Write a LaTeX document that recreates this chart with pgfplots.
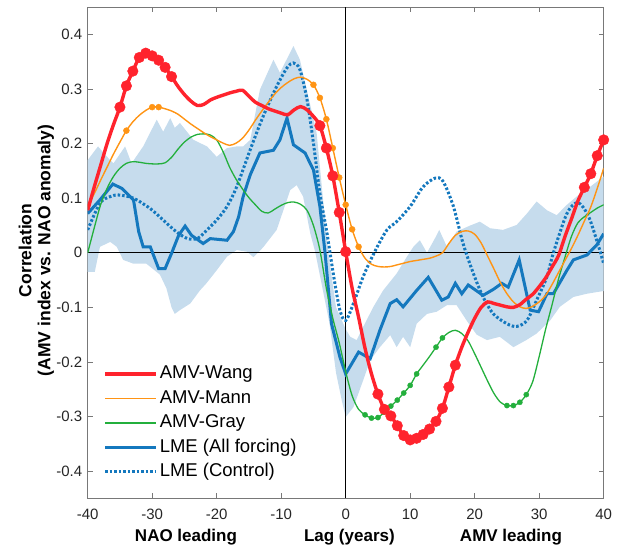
\documentclass[border=0pt]{standalone}
\usepackage{fontspec}
\setmainfont{Liberation Sans}
\usepackage{pgfplots}
\pgfplotsset{compat=1.18}
\usepgfplotslibrary{fillbetween}
\definecolor{cred}{RGB}{255,35,45}
\definecolor{corange}{RGB}{255,148,20}
\definecolor{cgreen}{RGB}{35,175,60}
\definecolor{cblue}{RGB}{20,120,190}
\definecolor{cband}{RGB}{198,220,237}
\definecolor{cframe}{RGB}{120,120,120}
\definecolor{ctext}{RGB}{38,38,38}
\begin{document}
\begin{tikzpicture}
\begin{axis}[
  scale only axis, width=516pt, height=491pt,
  xmin=-40, xmax=40, ymin=-0.45, ymax=0.45,
  xtick={-40,-30,-20,-10,0,10,20,30,40},
  ytick={-0.4,-0.3,-0.2,-0.1,0,0.1,0.2,0.3,0.4},
  /pgf/number format/assume math mode=true,
  yticklabel style={/pgf/number format/fixed, /pgf/number format/precision=1, xshift=-2pt},
  xticklabel style={anchor=base, yshift=-21pt},
  ticklabel style={font=\fontsize{15}{18}\selectfont, text=ctext},
  tick align=inside, major tick length=5pt,
  tick style={cframe, line width=0.7pt},
  axis line style={cframe, line width=0.8pt},
  ylabel={Correlation\\(AMV index vs. NAO anomaly)},
  ylabel style={align=center, font=\bfseries\fontsize{17.5}{19}\selectfont, at={(axis description cs:-0.0995,0.505)}, anchor=center},
  legend style={draw=none, fill=none, at={(axis cs:-37.6,-0.2025)}, anchor=north west,
    font=\fontsize{18.5}{22}\selectfont, inner sep=0pt, row sep=3.5pt,
    nodes={inner sep=2pt, text height=13.5pt, text depth=3.5pt}},
  legend cell align=left,
  legend image code/.code={\draw[#1] (0pt,0pt) -- (51pt,0pt);},
]
% band
\addplot[name path=up, draw=none, forget plot] coordinates {
(-40,0.170) (-38.4,0.195) (-37,0.176) (-36,0.164) (-34.2,0.195) (-33.2,0.164) (-31.4,0.195) (-29.3,0.244) (-28.3,0.222) (-27.2,0.247) (-26.5,0.229) (-25.7,0.238) (-23.6,0.207) (-21.5,0.195) (-20,0.176) (-18.4,0.192) (-16.9,0.195) (-15.9,0.195) (-14.8,0.207) (-13.3,0.299) (-11.2,0.354) (-10.2,0.330) (-8.1,0.379) (-7.1,0.354) (-5.8,0.287) (-4.5,0.219) (-3.2,0.06) (-2.7,0) (-1.5,-0.10) (0,-0.14) (0.7,-0.154) (1.7,-0.16) (2.7,-0.136) (4.3,-0.099) (5.8,-0.069) (7.9,-0.038) (9.5,-0.007) (10.5,0.011) (11.5,0.023) (12.6,0) (14,0.030) (14.5,0.042) (15.7,0.011) (17.2,0.039) (19.3,0.05) (20.8,0.057) (22.4,0.045) (24.4,0.042) (26.5,0.051) (28.1,0.072) (29.6,0.094) (31.2,0.078) (32.7,0.069) (34.3,0.088) (35.8,0.103) (37.9,0.121) (40,0.14)};
\addplot[name path=lo, draw=none, forget plot] coordinates {
(-40,-0.035) (-38.9,-0.035) (-38.1,0.011) (-36.5,0.020) (-35.5,0.011) (-34.5,-0.013) (-32.9,-0.020) (-30.9,-0.020) (-28.8,-0.040) (-27.8,-0.065) (-27,-0.100) (-26.5,-0.112) (-25.7,-0.105) (-24.1,-0.093) (-22.6,-0.069) (-21.6,-0.056) (-20,-0.032) (-18.4,-0.007) (-16.9,0.005) (-15.3,0.002) (-14.3,-0.008) (-12.8,0.010) (-10.7,0.042) (-8.6,0.115) (-7.6,0.124) (-6.6,0.103) (-5.5,0.036) (-4.7,0) (-2.5,-0.13) (-1.5,-0.22) (-0.6,-0.271) (0,-0.301) (1.2,-0.283) (2.7,-0.234) (3.8,-0.197) (5.3,-0.173) (6.9,-0.151) (7.9,-0.173) (8.9,-0.154) (10,-0.173) (11,-0.130) (12.6,-0.112) (14.1,-0.108) (15.7,-0.096) (17.2,-0.096) (18.8,-0.125) (20.3,-0.15) (21.9,-0.160) (23.9,-0.154) (26,-0.173) (28,-0.160) (29.6,-0.148) (31.7,-0.124) (33.2,-0.099) (35.3,-0.081) (37.4,-0.075) (40,-0.070)};
\addplot[cband, forget plot] fill between[of=up and lo];
% zero lines
\addplot[black, line width=1pt, forget plot] coordinates {(-40,0) (40,0)};
\addplot[black, line width=1pt, forget plot] coordinates {(0,-0.45) (0,0.45)};
% legend images
\addlegendimage{color=cred, line width=3.4pt}
\addlegendentry{AMV-Wang}
\addlegendimage{color=corange, line width=1.6pt}
\addlegendentry{AMV-Mann}
\addlegendimage{color=cgreen, line width=1.6pt}
\addlegendentry{AMV-Gray}
\addlegendimage{color=cblue, line width=3pt}
\addlegendentry{LME (All forcing)}
\addlegendimage{color=cblue, line width=3pt, dash pattern=on 2.5pt off 2pt}
\addlegendentry{LME (Control)}
% LME control
\addplot[cblue, line width=3pt, dash pattern=on 2.5pt off 2pt, smooth, forget plot] coordinates {
(-40,0.042) (-38.1,0.091) (-36.5,0.103) (-35.2,0.106) (-32.9,0.100) (-30.3,0.081) (-28.3,0.060) (-26.2,0.038) (-24.5,0.026) (-23,0.026) (-22,0.036) (-20,0.060) (-18.4,0.085) (-16.9,0.121) (-14.8,0.189) (-12.8,0.25) (-10.7,0.305) (-9.1,0.339) (-8.1,0.348) (-7.1,0.336) (-6,0.281) (-5,0.201) (-4,0.109) (-2.9,0.036) (-1.9,-0.040) (-0.9,-0.105) (0,-0.124) (1.2,-0.093) (2.7,-0.044) (4.5,0.002) (6.4,0.042) (7.9,0.057) (10,0.085) (12,0.121) (13.9,0.137) (15.1,0.131) (16.7,0.085) (18.2,0.017) (19.8,-0.038) (21.3,-0.081) (22.9,-0.112) (25,-0.130) (26.5,-0.135) (28.1,-0.124) (29.6,-0.087) (31.2,-0.044) (32.2,0) (34.3,0.072) (36,0.092) (37.6,0.068) (39,0.020) (40,-0.02)};
% LME all forcing
\addplot[cblue, line width=3pt, forget plot] coordinates {
(-40,0.072) (-38.1,0.097) (-36.1,0.126) (-34.7,0.118) (-32.9,0.097) (-32.1,0.039) (-31.4,0.011) (-30.3,0.011) (-29,-0.029) (-28,-0.029) (-27,-0.001) (-25.9,0.032) (-24.9,0.049) (-23.9,0.032) (-22.1,0.017) (-21,0.026) (-18.4,0.023) (-17.4,0.039) (-16.6,0.066) (-15.9,0.103) (-14.8,0.143) (-13.3,0.183) (-11.2,0.188) (-10.2,0.207) (-9.1,0.247) (-8.1,0.198) (-6.3,0.183) (-5,0.152) (-4,0.085) (-3.2,0) (-2.2,-0.13) (-0.9,-0.191) (0,-0.222) (2,-0.182) (3.8,-0.194) (5.3,-0.142) (6.9,-0.093) (7.9,-0.086) (8.9,-0.099) (11,-0.069) (12.8,-0.045) (14.9,-0.087) (15.9,-0.081) (17,-0.056) (18,-0.075) (19,-0.059) (21.3,-0.078) (22.9,-0.067) (24.2,-0.056) (25.2,-0.063) (26.9,-0.013) (28.6,-0.105) (29.9,-0.108) (31.2,-0.075) (32.2,-0.075) (34.3,-0.032) (35.3,-0.013) (37.4,-0.004) (38.9,0.014) (40,0.035)};
% AMV-Gray
\addplot[cgreen, line width=1.3pt, smooth, forget plot] coordinates {
(-40,0.000) (-39,0.045) (-38,0.088) (-37,0.118) (-36,0.140) (-35,0.155) (-34,0.164) (-33,0.167) (-32,0.166) (-31,0.164) (-30,0.163) (-29,0.163) (-28,0.165) (-27,0.175) (-26,0.190) (-25,0.203) (-24,0.212) (-23,0.217) (-22,0.218) (-21,0.216) (-20,0.207) (-19,0.185) (-18,0.157) (-17,0.135) (-16,0.117) (-15,0.101) (-14,0.088) (-13,0.076) (-12,0.073) (-11,0.080) (-10,0.087) (-9,0.092) (-8,0.093) (-7,0.089) (-6,0.078) (-5,0.050) (-4,0.005) (-3,-0.065) (-2,-0.120) (-1,-0.165) (0,-0.218) (1,-0.262) (2,-0.287) (3,-0.297) (4,-0.303) (5,-0.302) (6,-0.292) (7,-0.281) (8,-0.270) (9,-0.257) (10,-0.243) (11,-0.222) (12,-0.206) (13,-0.190) (14,-0.173) (15,-0.156) (16,-0.146) (17,-0.142) (18,-0.148) (19,-0.162) (20,-0.185) (21,-0.210) (22,-0.235) (23,-0.258) (24,-0.274) (25,-0.280) (26,-0.280) (27,-0.274) (28,-0.260) (29,-0.236) (30,-0.190) (31,-0.140) (32,-0.095) (33,-0.048) (34,-0.008) (35,0.030) (36,0.055) (37,0.066) (38,0.074) (39,0.082) (40,0.088)};
\addplot[cgreen, only marks, mark=*, mark size=2.6pt, forget plot] coordinates {
(3,-0.297) (4,-0.303) (5,-0.302) (6,-0.292) (7,-0.281) (8,-0.270) (9,-0.257) (10,-0.243) (11,-0.222) (14,-0.173) (15,-0.156) (25,-0.280) (26,-0.280) (27,-0.274) (28,-0.260)};
% AMV-Mann
\addplot[corange, line width=1.4pt, smooth, forget plot] coordinates {
(-40,0.085) (-39,0.108) (-38,0.133) (-37,0.157) (-36,0.181) (-35,0.203) (-34,0.224) (-33,0.240) (-32,0.252) (-31,0.261) (-30,0.267) (-29,0.267) (-28,0.264) (-27,0.260) (-26,0.254) (-25,0.245) (-24,0.236) (-23,0.228) (-22,0.220) (-21,0.213) (-20,0.207) (-19,0.201) (-18,0.197) (-17,0.201) (-16,0.210) (-15,0.225) (-14,0.243) (-13,0.260) (-12,0.276) (-11,0.291) (-10,0.303) (-9,0.312) (-8,0.319) (-7,0.322) (-6,0.318) (-5,0.308) (-4,0.284) (-3,0.245) (-2,0.192) (-1,0.138) (0,0.088) (1,0.043) (2,0.011) (3,-0.010) (4,-0.021) (5,-0.025) (6,-0.026) (7,-0.025) (8,-0.022) (9,-0.019) (10,-0.016) (11,-0.014) (12,-0.012) (13,-0.010) (14,-0.006) (15,0.000) (16,0.017) (17,0.032) (18,0.039) (19,0.040) (20,0.034) (21,0.018) (22,-0.006) (23,-0.030) (24,-0.055) (25,-0.075) (26,-0.090) (27,-0.099) (28,-0.102) (29,-0.098) (30,-0.090) (31,-0.078) (32,-0.058) (33,-0.036) (34,-0.014) (35,0.008) (36,0.032) (37,0.058) (38,0.084) (39,0.118) (40,0.155)};
\addplot[corange, only marks, mark=*, mark size=3pt, forget plot] coordinates {
(-34,0.224) (-30,0.267) (-29,0.267) (-5,0.308) (-4,0.284) (-3,0.245) (-2,0.192) (-1,0.138) (0,0.088) (1,0.043) (2,0.011)};
% AMV-Wang
\addplot[cred, line width=3.4pt, smooth, forget plot] coordinates {
(-40,0.078) (-39,0.12) (-38,0.16) (-37,0.2) (-36,0.235) (-35,0.267) (-34,0.306) (-33,0.333) (-32,0.358) (-31,0.366) (-30,0.361) (-29,0.353) (-28,0.340) (-27,0.323) (-26,0.305) (-25,0.290) (-24,0.278) (-23,0.270) (-22,0.272) (-21,0.280) (-20,0.285) (-19,0.289) (-18,0.293) (-17,0.296) (-16,0.298) (-15,0.287) (-14,0.276) (-13,0.270) (-12,0.264) (-11,0.260) (-10,0.256) (-9,0.253) (-8,0.262) (-7,0.268) (-6,0.262) (-5,0.250) (-4,0.233) (-3,0.192) (-2,0.141) (-1,0.074) (0,0.002) (1,-0.065) (2,-0.118) (3,-0.175) (4,-0.222) (5,-0.259) (6,-0.287) (7,-0.299) (8,-0.317) (9,-0.335) (10,-0.343) (11,-0.340) (12,-0.333) (13,-0.323) (14,-0.309) (15,-0.285) (16,-0.246) (17,-0.206) (18,-0.173) (19,-0.145) (20,-0.120) (21,-0.100) (22,-0.090) (23,-0.093) (24,-0.096) (25,-0.099) (26,-0.100) (27,-0.095) (28,-0.085) (29,-0.076) (30,-0.062) (31,-0.046) (32,-0.026) (33,-0.005) (34,0.030) (35,0.062) (36,0.095) (37,0.120) (38,0.145) (39,0.178) (40,0.207)};
\addplot[cred, only marks, mark=*, mark size=5.3pt, forget plot] coordinates {
(-35,0.267) (-34,0.306) (-33,0.333) (-32,0.358) (-31,0.366) (-30,0.361) (-29,0.353) (-28,0.340) (-27,0.323) (-4,0.233) (-3,0.192) (-2,0.141) (-1,0.074) (0,0.002) (5,-0.259) (6,-0.287) (7,-0.299) (8,-0.317) (9,-0.335) (10,-0.343) (11,-0.340) (12,-0.333) (13,-0.323) (14,-0.309) (15,-0.285) (16,-0.246) (17,-0.206) (37,0.120) (38,0.145) (39,0.178) (40,0.207)};
\end{axis}
% x annotations (axis south west is at the origin)
\node[font=\bfseries\fontsize{17}{20}\selectfont, anchor=base] at (98.3pt,-43.4pt) {NAO leading};
\node[font=\bfseries\fontsize{17}{20}\selectfont, anchor=base] at (261.7pt,-43.4pt) {Lag (years)};
\node[font=\bfseries\fontsize{17}{20}\selectfont, anchor=base] at (423.3pt,-43.4pt) {AMV leading};
\path (-87.7pt,-47.7pt) rectangle (531.3pt,498.3pt);
\end{tikzpicture}
\end{document}
